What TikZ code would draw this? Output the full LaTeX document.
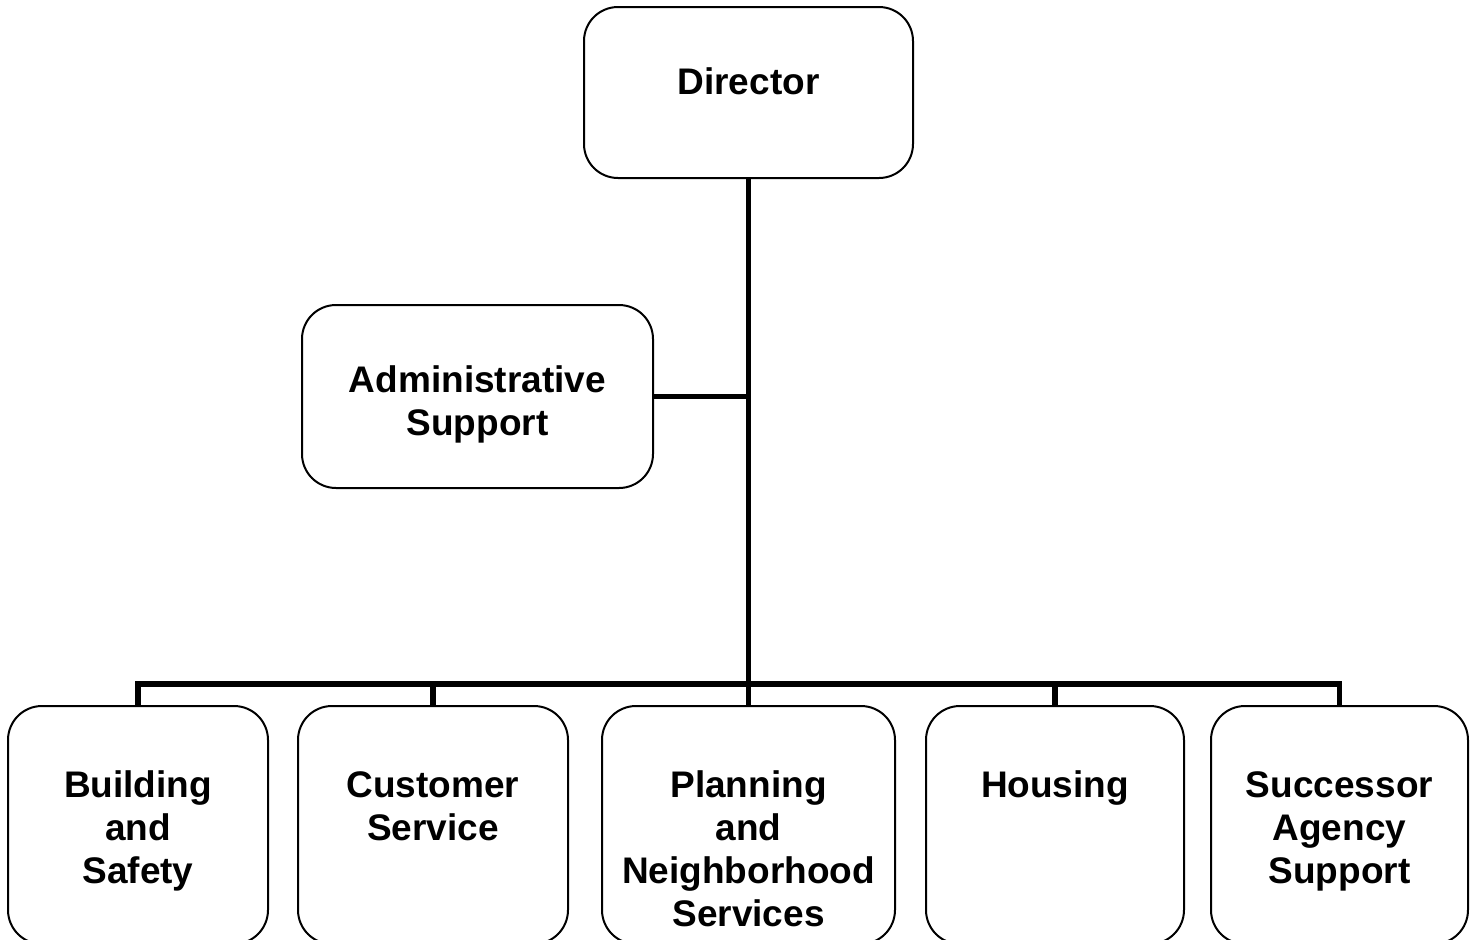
\documentclass[tikz,border=0pt]{standalone}
\usepackage{fontspec}
\setmainfont{Liberation Sans}
\usetikzlibrary{positioning}

\begin{document}
\begin{tikzpicture}[x=0.5pt,y=-0.5pt,
    unit/.style={draw, line width=1pt, rounded corners=17pt, inner sep=0pt},
    lbl/.style={anchor=base, align=center, text width=140pt, font=\bfseries\fontsize{18.5}{21.5}\selectfont},
    link/.style={line width=2.8pt}]
        \useasboundingbox (0,0) rectangle (1480,939);

        %Boxes
        \node[unit, minimum width=164.5pt, minimum height=85.5pt] (dir) at (748.5,92.5) {};
        \node[unit, minimum width=175.5pt, minimum height=91.5pt] (admin) at (477.5,396.5) {};
        \node[unit, minimum width=130pt, minimum height=119pt] (build) at (138,825) {};
        \node[unit, minimum width=135pt, minimum height=119pt] (cust) at (433,825) {};
        \node[unit, minimum width=146.5pt, minimum height=119pt] (plan) at (748.5,825) {};
        \node[unit, minimum width=129pt, minimum height=119pt] (hous) at (1055,825) {};
        \node[unit, minimum width=128.5pt, minimum height=119pt] (succ) at (1339.5,825) {};

        %Labels
        \node[lbl] (dirtext) at ([yshift=-44pt]dir.north) {Director};
        \node[lbl] (admintext) at ([yshift=-44pt]admin.north) {Administrative\\Support};
        \node[lbl] (buildtext) at ([yshift=-46pt]build.north) {Building\\and\\Safety};
        \node[lbl] (custtext) at ([yshift=-46pt]cust.north) {Customer\\Service};
        \node[lbl] (plantext) at ([yshift=-46pt]plan.north) {Planning\\and\\Neighborhood\\Services};
        \node[lbl] (houstext) at ([yshift=-46pt]hous.north) {Housing};
        \node[lbl] (succtext) at ([yshift=-46pt]succ.north) {Successor\\Agency\\Support};

        %Connectors
        \coordinate (bus) at (748.5,684);
        \draw[link] (dir.south) -- (bus);
        \draw[link] (admin.east) -- (admin.east -| dir.south);
        \draw[link] (build.north) -- (build.north |- bus) -- (succ.north |- bus) -- (succ.north);
        \foreach \n in {cust,plan,hous}
            \draw[link] (\n.north) -- (\n.north |- bus);
    \end{tikzpicture}
\end{document}
